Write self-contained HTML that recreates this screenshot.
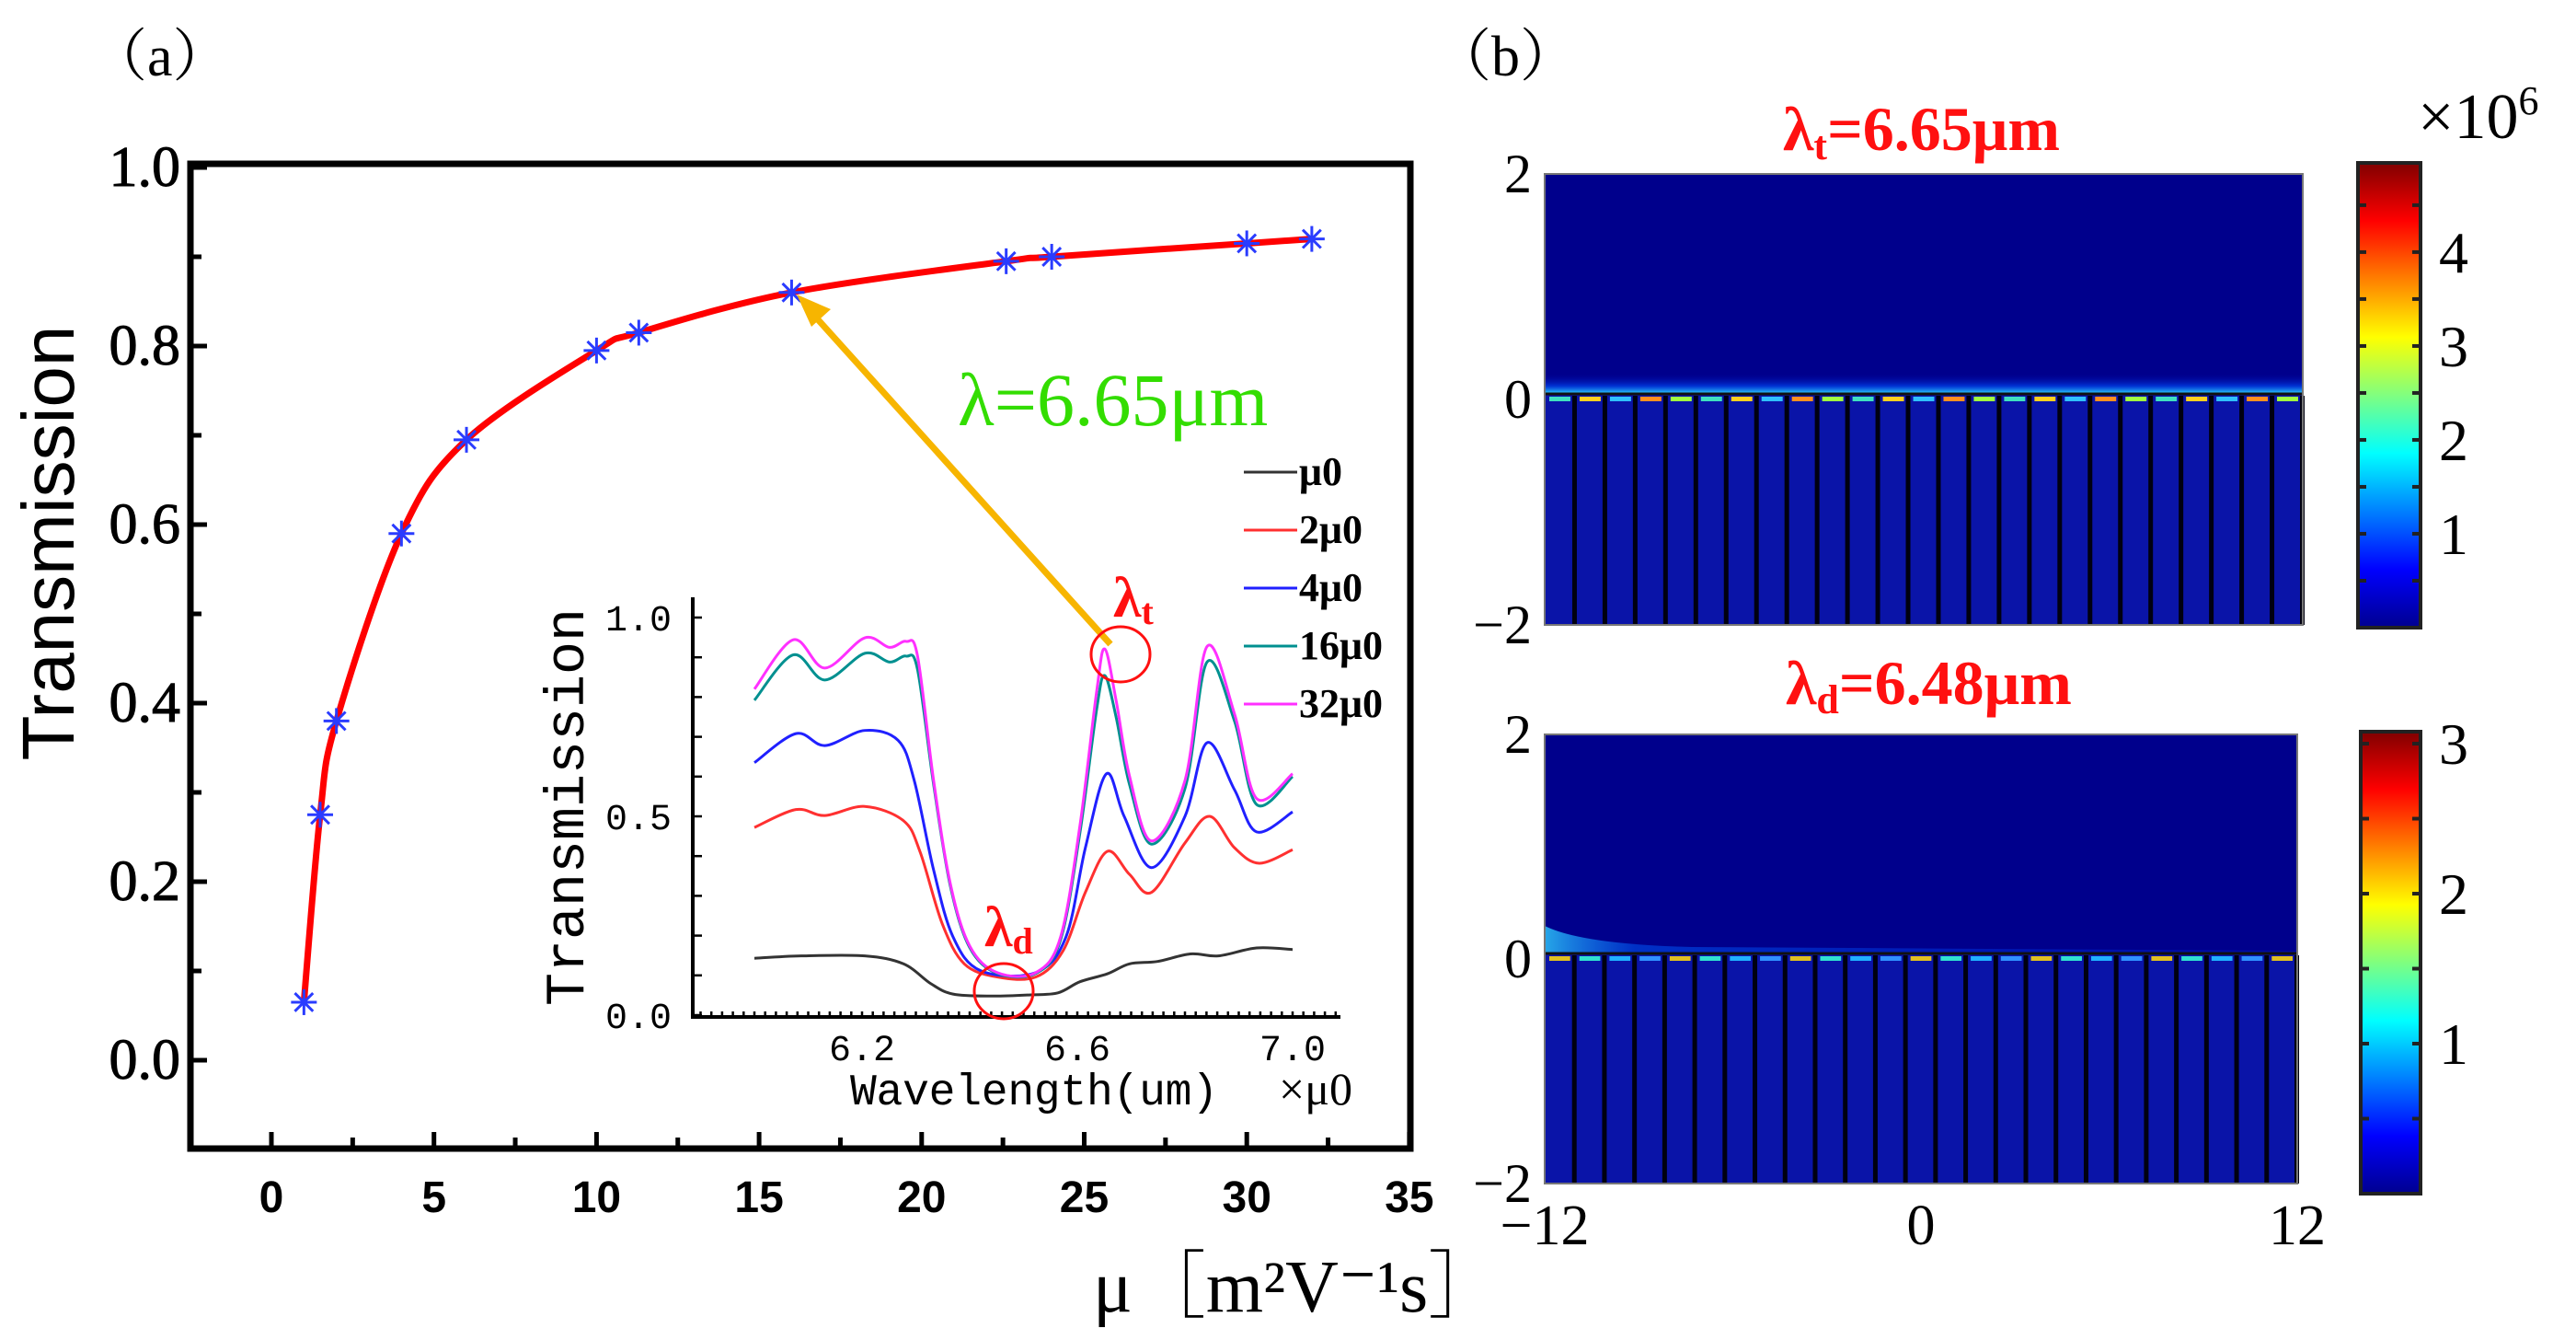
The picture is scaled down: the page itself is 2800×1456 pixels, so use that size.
<!DOCTYPE html>
<html><head><meta charset="utf-8"><style>
html,body{margin:0;padding:0;background:#fff;}
svg{display:block;}
.serif{font-family:"Liberation Serif","Noto Serif CJK SC",serif;}
.sans{font-family:"Liberation Sans",sans-serif;}
.mono{font-family:"Liberation Mono",monospace;}
</style></head><body>
<svg id="fig" width="2800" height="1456" viewBox="0 0 2800 1456" xmlns="http://www.w3.org/2000/svg">
<defs>
<linearGradient id="jet" x1="0" y1="1" x2="0" y2="0">
<stop offset="0" stop-color="#00008f"/><stop offset="0.125" stop-color="#0000ff"/><stop offset="0.375" stop-color="#00ffff"/><stop offset="0.625" stop-color="#ffff00"/><stop offset="0.875" stop-color="#ff0000"/><stop offset="1" stop-color="#800000"/>
</linearGradient>
<linearGradient id="glow1" x1="0" y1="0" x2="0" y2="1">
<stop offset="0" stop-color="#0000a0" stop-opacity="0"/><stop offset="0.6" stop-color="#0050ff" stop-opacity="0.6"/><stop offset="1" stop-color="#30e0ff"/>
</linearGradient>
<linearGradient id="glow2" x1="0" y1="0" x2="1" y2="0">
<stop offset="0" stop-color="#30d0ff" stop-opacity="0.8"/><stop offset="0.12" stop-color="#0060ff" stop-opacity="0.5"/><stop offset="1" stop-color="#0030ff" stop-opacity="0.2"/>
</linearGradient>
</defs>
<g id="panelA"></g>
<g id="panelB"></g>
</svg>
<script>
// ---- main chart data ----
const mobility = [1, 1.5, 2, 4, 6, 10, 11.3, 16, 22.6, 24, 30, 32];
const transmission = [0.065, 0.275, 0.38, 0.59, 0.695, 0.795, 0.815, 0.86, 0.895, 0.9, 0.915, 0.92];
const xTicks = [0, 5, 10, 15, 20, 25, 30, 35];
const yTicks = [0.0, 0.2, 0.4, 0.6, 0.8, 1.0];
// ---- inset data ----
const wl32 = [6.0,6.072,6.131,6.205,6.251,6.282,6.303,6.333,6.364,6.4,6.451,6.523,6.569,6.605,6.636,6.651,6.672,6.697,6.738,6.8,6.841,6.892,6.933,7.0];
const t32 = [0.82,0.944,0.873,0.949,0.925,0.94,0.904,0.59,0.331,0.174,0.107,0.107,0.197,0.478,0.815,0.921,0.792,0.601,0.438,0.59,0.927,0.758,0.545,0.607];
const wl16 = wl32;
const t16 = [0.792,0.906,0.843,0.91,0.888,0.903,0.87,0.58,0.325,0.17,0.105,0.105,0.19,0.46,0.77,0.854,0.75,0.58,0.43,0.57,0.888,0.74,0.53,0.6];
const wl4 = [6.0,6.077,6.131,6.205,6.267,6.297,6.333,6.369,6.42,6.523,6.579,6.615,6.654,6.687,6.738,6.8,6.841,6.892,6.933,7.0];
const t4 = [0.635,0.708,0.678,0.716,0.691,0.59,0.365,0.197,0.112,0.107,0.197,0.421,0.607,0.5,0.371,0.5,0.685,0.567,0.461,0.511];
const wl2 = [6.0,6.077,6.131,6.205,6.277,6.308,6.349,6.39,6.451,6.523,6.574,6.615,6.656,6.697,6.738,6.8,6.846,6.892,6.938,7.0];
const t2 = [0.472,0.517,0.502,0.525,0.489,0.41,0.23,0.129,0.096,0.096,0.163,0.309,0.412,0.354,0.309,0.433,0.5,0.421,0.382,0.416];
const wl1 = [6.0,6.087,6.205,6.277,6.328,6.369,6.441,6.513,6.564,6.605,6.656,6.697,6.749,6.81,6.862,6.933,7.0];
const t1 = [0.143,0.149,0.149,0.129,0.079,0.053,0.048,0.051,0.056,0.084,0.104,0.129,0.135,0.154,0.149,0.169,0.165];
const insetXTicks = [6.2, 6.6, 7.0];
const insetYTicks = [0.0, 0.5, 1.0];
const legendLabels = ["μ0","2μ0","4μ0","16μ0","32μ0"];
// ---- panel b ----
const cb1Ticks = [1,2,3,4];
const cb2Ticks = [1,2,3];
const mapYTicks = [2,0,-2];
const mapXTicks = [-12,0,12];

const NS="http://www.w3.org/2000/svg";
function mk(parent,tag,attrs,text){const e=document.createElementNS(NS,tag);for(const k in attrs)e.setAttribute(k,attrs[k]);if(text!==undefined)e.textContent=text;parent.appendChild(e);return e;}
function smooth(pts){let d="M"+pts[0][0]+","+pts[0][1];for(let i=0;i<pts.length-1;i++){const p0=pts[Math.max(i-1,0)],p1=pts[i],p2=pts[i+1],p3=pts[Math.min(i+2,pts.length-1)];const c1=[p1[0]+(p2[0]-p0[0])/6,p1[1]+(p2[1]-p0[1])/6],c2=[p2[0]-(p3[0]-p1[0])/6,p2[1]-(p3[1]-p1[1])/6];d+=" C"+c1[0]+","+c1[1]+" "+c2[0]+","+c2[1]+" "+p2[0]+","+p2[1];}return d;}

const A=document.getElementById('panelA');
const X=v=>295+v*35.34, Y=v=>1152-v*970;
let t=mk(A,'text',{x:98,y:82,'font-size':62,class:'serif'},'（a）');


let box=mk(A,'rect',{x:207,y:178,width:1326,height:1070,fill:'none',stroke:'#000','stroke-width':7});


for(let v=0;v<=35;v+=2.5){const tk=mk(A,'line',{x1:X(v),x2:X(v),y1:1248,y2:v%5===0?1230:1236,stroke:'#000','stroke-width':5});

}
for(let v=-0.1;v<=1.0001;v+=0.1){const tk=mk(A,'line',{x1:207,x2:Math.abs(Math.round(v*10))%2===0?225:219,y1:Y(v),y2:Y(v),stroke:'#000','stroke-width':5});

}
xTicks.forEach(v=>{const l=mk(A,'text',{x:X(v),y:1317,'font-size':48,'font-weight':'bold','text-anchor':'middle',class:'sans'},String(v));

});
yTicks.forEach(v=>{const l=mk(A,'text',{x:196,y:Y(v)+20,'font-size':62,'text-anchor':'end',class:'serif',stroke:'#000','stroke-width':1},v.toFixed(1));

});
t=mk(A,'text',{x:0,y:0,'font-size':80,'text-anchor':'middle',class:'sans',transform:'translate(80,590) rotate(-90)'},'Transmission');


t=mk(A,'text',{x:1188,y:1425,'font-size':80,class:'serif'},'μ［m²V⁻¹s］');


let cv=mk(A,'path',{d:smooth(mobility.map((m,i)=>[X(m),Y(transmission[i])])),fill:'none',stroke:'#ff0000','stroke-width':7});


mobility.forEach((m,i)=>{const g=mk(A,'g',{transform:`translate(${X(m)},${Y(transmission[i])})`,stroke:'#2a3cff','stroke-width':3});


[0,45,90,135].forEach(a=>mk(g,'line',{x1:-14,x2:14,y1:0,y2:0,transform:`rotate(${a})`}));});
let ar=mk(A,'line',{x1:1207,y1:700,x2:878,y2:335,stroke:'#f7b500','stroke-width':7});


let ah=mk(A,'path',{d:'M866,320 L903,336 L882,355 Z',fill:'#f7b500'});


t=mk(A,'text',{x:1041,y:462,'font-size':82,fill:'#33dd00',class:'serif'},'λ=6.65μm');


// inset
const IX=w=>937+(w-6.2)*585, IY=v=>1103-v*432;
let ia=mk(A,'path',{d:'M753,649 L753,1105 L1457,1105',fill:'none',stroke:'#000','stroke-width':4});


for(let w=5.9;w<=7.09;w+=0.02){const tk=mk(A,'line',{x1:IX(w),x2:IX(w),y1:1105,y2:1099,stroke:'#000','stroke-width':2.5});

}
for(let v=0;v<=1.0001;v+=0.1){const tk=mk(A,'line',{x1:753,x2:763,y1:IY(v),y2:IY(v),stroke:'#000','stroke-width':2.5});

}
insetXTicks.forEach(w=>{const l=mk(A,'text',{x:IX(w),y:1152,'font-size':40,'text-anchor':'middle',class:'mono'},w.toFixed(1));

});
insetYTicks.forEach(v=>{const l=mk(A,'text',{x:730,y:IY(v)+14,'font-size':40,'text-anchor':'end',class:'mono'},v.toFixed(1));

});
t=mk(A,'text',{x:0,y:0,'font-size':60,'text-anchor':'middle',class:'mono',transform:'translate(634,877) rotate(-90)'},'Transmission');


t=mk(A,'text',{x:924,y:1200,'font-size':48,textLength:400,class:'mono'},'Wavelength(um)');


t=mk(A,'text',{x:1390,y:1200,'font-size':50,class:'serif'},'×μ0');


const series=[[wl1,t1,'#333333'],[wl2,t2,'#ff3030'],[wl4,t4,'#2020ff'],[wl16,t16,'#009090'],[wl32,t32,'#ff30ff']];
series.forEach((s,k)=>{const p=mk(A,'path',{d:smooth(s[0].map((w,i)=>[IX(w),IY(s[1][i])])),fill:'none',stroke:s[2],'stroke-width':3});

});
legendLabels.forEach((lab,k)=>{const y=513+k*63;const g=mk(A,'g',{});


mk(g,'line',{x1:1352,x2:1410,y1:y,y2:y,stroke:series[k][2],'stroke-width':3});
mk(g,'text',{x:1412,y:y+14,'font-size':44,'font-weight':'bold',class:'serif'},lab);});
let c1=mk(A,'ellipse',{cx:1218,cy:711,rx:32,ry:30,fill:'none',stroke:'#ff1010','stroke-width':3});


let c2=mk(A,'ellipse',{cx:1091,cy:1077,rx:32,ry:30,fill:'none',stroke:'#ff1010','stroke-width':3});


t=mk(A,'text',{x:1210,y:670,'font-size':62,'font-weight':'bold',fill:'#ff1010',class:'serif'});
t.innerHTML='λ<tspan font-size="40" dy="8">t</tspan>';


t=mk(A,'text',{x:1070,y:1028,'font-size':62,'font-weight':'bold',fill:'#ff1010',class:'serif'});
t.innerHTML='λ<tspan font-size="40" dy="8">d</tspan>';



// ---- panel b ----
const B=document.getElementById('panelB');
t=mk(B,'text',{x:1559,y:82,'font-size':62,class:'serif'},'（b）');


function heatmap(x0,y0,x1,y1,top,name,hot){
 const g=mk(B,'g',{});
 
 
 const MY=v=>y0+(2-v)/4*(y1-y0);
 const yi=MY(0)-6;
 mk(g,'rect',{x:x0,y:y0,width:x1-x0,height:y1-y0,fill:'#00008c'});
 mk(g,'rect',{x:x0,y:yi,width:x1-x0,height:y1-yi,fill:'#0a14a8'});
 if(top){mk(g,'rect',{x:x0,y:yi-22,width:x1-x0,height:22,fill:'url(#glow1)'});}
 else{mk(g,'path',{d:`M${x0},${yi-30} Q${x0+40},${yi-10} ${x0+160},${yi-7} L${x1},${yi-3} L${x1},${yi} L${x0},${yi} Z`,fill:'url(#glow2)'});}
 mk(g,'line',{x1:x0,x2:x1,y1:yi,y2:yi,stroke:'#111','stroke-width':3});
 const n=25,pw=(x1-x0)/n;
 for(let i=0;i<n;i++){const cx=x0+pw*(i+0.5);
  mk(g,'rect',{x:cx-pw/2+5,y:yi+3,width:pw-10,height:5,fill:hot[i%hot.length]});
  mk(g,'rect',{x:x0+pw*(i+1)-3,y:yi+2,width:5,height:y1-yi-2,fill:'#000010'});}
 mk(g,'rect',{x:x0,y:y0,width:x1-x0,height:y1-y0,fill:'none',stroke:'#777','stroke-width':2});
 mapYTicks.forEach(v=>{const l=mk(B,'text',{x:x0-14,y:MY(v)+20,'font-size':60,'text-anchor':'end',class:'serif'},v<0?'−'+(-v):String(v));
 
 });
}
heatmap(1679,189,2503,679,true,'field-map-top',['#40e0c0','#ffd020','#30c0ff','#ff9020','#a0ff40']);
heatmap(1679,798,2497,1286,false,'field-map-bottom',['#e0c020','#30e0d0','#20b0ff','#3090ff']);
mapXTicks.forEach(v=>{const l=mk(B,'text',{x:1679+(v+12)/24*818,y:1352,'font-size':62,'text-anchor':'middle',class:'serif'},v<0?'−'+(-v):String(v));

});
t=mk(B,'text',{x:1938,y:163,'font-size':68,'font-weight':'bold',fill:'#ff1010',class:'serif'});
t.innerHTML='λ<tspan font-size="44" dy="10">t</tspan><tspan dy="-10">=6.65μm</tspan>';


t=mk(B,'text',{x:1941,y:765,'font-size':68,'font-weight':'bold',fill:'#ff1010',class:'serif'});
t.innerHTML='λ<tspan font-size="44" dy="10">d</tspan><tspan dy="-10">=6.48μm</tspan>';


function colorbar(x0,y0,x1,y1,vmax,ticks,name){
 const g=mk(B,'g',{});
 
 
 mk(g,'rect',{x:x0,y:y0,width:x1-x0,height:y1-y0,fill:'url(#jet)',stroke:'#222','stroke-width':4});
 const CY=v=>y1-v/vmax*(y1-y0);
 for(let v=0.5;v<vmax;v+=0.5){mk(g,'line',{x1:x0,x2:x0+9,y1:CY(v),y2:CY(v),stroke:'#222','stroke-width':4});mk(g,'line',{x1:x1-9,x2:x1,y1:CY(v),y2:CY(v),stroke:'#222','stroke-width':4});}
 ticks.forEach(v=>{const l=mk(B,'text',{x:x1+20,y:CY(v)+22,'font-size':64,class:'serif'},String(v));
 
 });
}
colorbar(2563,177,2631,682,4.95,cb1Ticks,'colorbar-top');
colorbar(2566,795,2631,1297,3.08,cb2Ticks,'colorbar-bottom');
t=mk(B,'text',{x:2628,y:150,'font-size':70,class:'serif'});
t.innerHTML='×10<tspan font-size="44" dy="-26">6</tspan>';


</script>
</body></html>
